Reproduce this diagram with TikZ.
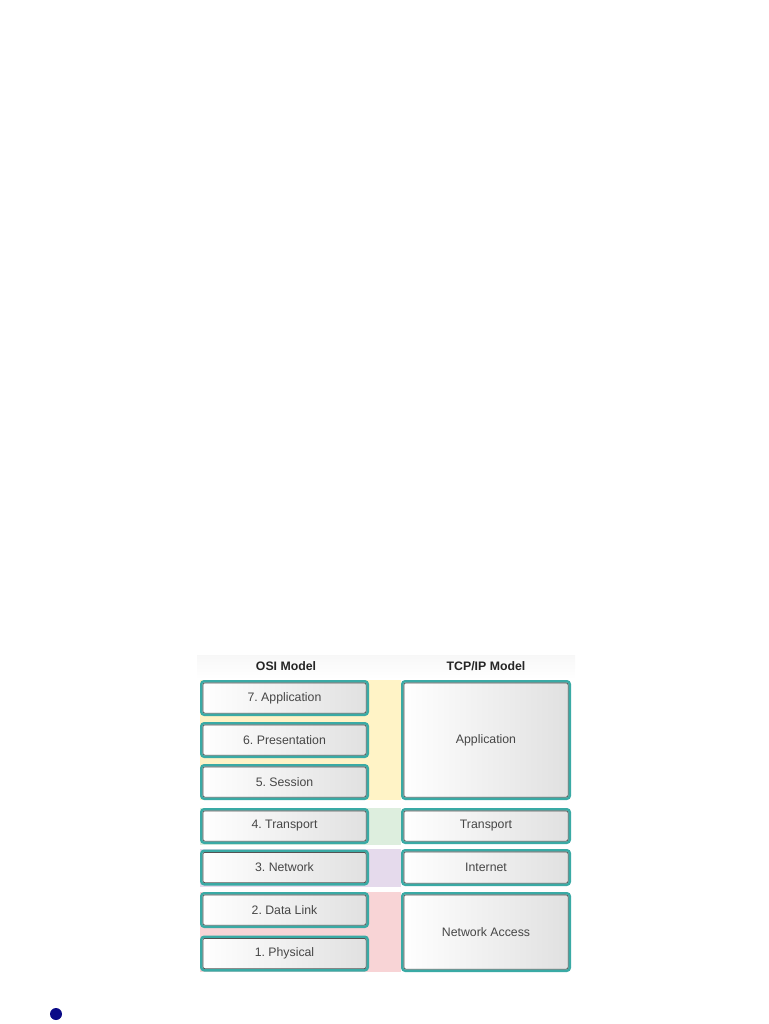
\documentclass[tikz,border=0pt]{standalone}
\usepackage{fontspec}
\setmainfont{Liberation Sans}
\frenchspacing
\definecolor{tealc}{RGB}{58,170,165}
\definecolor{bandY}{RGB}{255,243,198}
\definecolor{bandG}{RGB}{221,238,222}
\definecolor{bandP}{RGB}{229,218,236}
\definecolor{bandR}{RGB}{248,212,214}
\definecolor{txt}{RGB}{70,70,70}
\definecolor{navyc}{RGB}{10,10,135}
\begin{document}
\begin{tikzpicture}[x=1pt,y=-1pt,
  layer/.style={draw=tealc, line width=2.4pt, rounded corners=3pt,
    left color=white, right color=gray!24, text=txt,
    font=\frenchspacing\fontsize{12.3}{14}\selectfont, inner sep=0pt,
    path picture={\draw[gray!65!black,line width=0.9pt,rounded corners=2pt]
      ([shift={(1.6pt,-1.6pt)}]path picture bounding box.north west) rectangle
      ([shift={(-1.6pt,1.6pt)}]path picture bounding box.south east);}},
  lbox/.style={layer, minimum width=166.6pt, minimum height=33.6pt},
  rbox/.style={layer, minimum width=167.6pt},
  title/.style={font=\bfseries\fontsize{12.3}{14}\selectfont, text=black!85}]
\useasboundingbox (0,0) rectangle (768,1024);
% header tint
\fill[top color=gray!6, bottom color=white, draw=none] (197,655) rectangle (575,679);
% bands
\fill[bandY] (200,680) rectangle (401,800);
\fill[bandG] (200,808) rectangle (401,845);
\fill[bandP] (200,849) rectangle (401,887);
\fill[bandR] (200,892) rectangle (401,972);
% titles
\node[title] (osi) at (286,666) {OSI Model};
\node[title] (tcp) at (486,666) {TCP/IP Model};
% OSI layers
\node[lbox] (o7) at (284.5,698) {7. Application};
\node[lbox] (o6) at (284.5,740) {6. Presentation};
\node[lbox] (o5) at (284.5,782) {5. Session};
\node[lbox] (o4) at (284.5,826) {4. Transport};
\node[lbox] (o3) at (284.5,867.5) {3. Network};
\node[lbox] (o2) at (284.5,910) {2. Data Link};
\node[lbox] (o1) at (284.5,953.5) {1. Physical};
% TCP/IP layers
\node[rbox, minimum height=117.6pt] (t4) at (486,740) {Application};
\node[rbox, minimum height=33.6pt] (t3) at (486,826) {Transport};
\node[rbox, minimum height=34.6pt] (t2) at (486,867.5) {Internet};
\node[rbox, minimum height=77.6pt] (t1) at (486,932) {Network Access};
% dot
\node[circle, fill=navyc, minimum size=12pt, inner sep=0pt] (dot) at (56,1014) {};
\end{tikzpicture}
\end{document}
